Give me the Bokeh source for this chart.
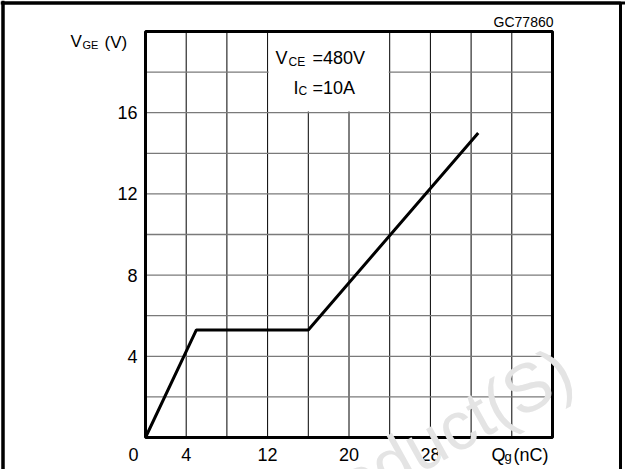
from bokeh.plotting import figure
from bokeh.models import Span
from bokeh.core.properties import value
from bokeh.embed import file_html
from bokeh.resources import INLINE

# ---- data ----
qg_nc = [0, 5.0, 16.0, 32.7]
vge_v = [0, 5.3, 5.3, 15.0]
x_ticks = [4, 12, 20, 28]
y_ticks = [4, 8, 12, 16]
x_grid = [4, 8, 12, 16, 20, 24, 28, 32, 36]
y_grid = [2, 4, 6, 8, 10, 12, 14, 16, 18]
box_x = [12, 24]
box_y = [16, 20]

FONT = "Liberation Sans"
W, H = 625, 469
L, R, T, B = 145, 73, 31, 32
XMAX, YMAX = 40, 20
fw, fh = W - L - R, H - T - B

def px2x(px):
    return (px - L) / fw * XMAX

def py2y(py):
    return (H - B - py) / fh * YMAX

p = figure(width=W, height=H, title=None,
           x_range=(px2x(0), px2x(W)), y_range=(py2y(H), py2y(0)),
           x_axis_type=None, y_axis_type=None,
           output_backend="svg", toolbar_location=None, min_border=0,
           min_border_left=0, min_border_right=0, min_border_top=0, min_border_bottom=0)
p.outline_line_color = None
p.background_fill_color = "white"
p.border_fill_color = "white"

# outer frame of the picture
p.quad(left=[px2x(2.5)], right=[px2x(620)], top=[py2y(2.5)], bottom=[py2y(490)],
       fill_color=None, line_color="black", line_width=3)
p.add_layout(Span(location=py2y(2.5), dimension="width", line_color="black", line_width=3))
p.add_layout(Span(location=px2x(2.5), dimension="height", line_color="black", line_width=3))

# grid
p.segment(x0=x_grid, y0=[0] * len(x_grid), x1=x_grid, y1=[YMAX] * len(x_grid),
          line_color="black", line_width=1)
p.segment(x0=[0] * len(y_grid), y0=y_grid, x1=[XMAX] * len(y_grid), y1=y_grid,
          line_color="#7a7a7a", line_width=1.3)

# white box behind the condition text
p.quad(left=[box_x[0] + 0.1], right=[box_x[1] - 0.1], bottom=[box_y[0] + 0.06], top=[box_y[1]],
       fill_color="white", line_color=None)

# plot frame
p.quad(left=[0], right=[XMAX], bottom=[0], top=[YMAX], fill_color=None,
       line_color="black", line_width=3)

p.line(qg_nc, vge_v, line_color="black", line_width=3)

# tick labels
p.text(x=x_ticks, y=[py2y(454)] * len(x_ticks), text=[str(t) for t in x_ticks],
       text_font=value(FONT), text_font_size="18px", text_align="center",
       text_baseline="middle", text_color="black")
p.text(x=[px2x(137)] * len(y_ticks), y=y_ticks, text=[str(t) for t in y_ticks],
       text_font=value(FONT), text_font_size="18px", text_align="right",
       text_baseline="middle", text_color="black")

def lab(text, px, py, size, align="left", color="black"):
    p.text(x=[px2x(px)], y=[py2y(py)], text=[text], text_font=value(FONT),
           text_font_size=f"{size}px", text_align=align, text_baseline="middle",
           text_color=color)

# y axis title V_GE (V)
lab("V", 70, 41, 17)
lab("GE", 82, 44, 11)
lab("(V)", 104, 42, 17)
# x axis title Q_g(nC)
lab("Q", 491, 454, 18)
lab("g", 504, 456, 13)
lab("(nC)", 513, 454, 18)
# origin label
lab("0", 133, 454, 18, align="center")
# conditions
lab("V", 275, 57, 18)
lab("CE", 288, 61, 12)
lab("=480V", 312, 57, 18)
lab("I", 293, 87, 18)
lab("C", 298, 90, 12)
lab("=10A", 312, 87, 18)
# figure code
lab("GC77860", 553, 21, 14, align="right")

# watermark (drawn on top)
p.text(x=[px2x(282)], y=[py2y(522)], text=["Product(S)"], text_font=value(FONT),
       text_font_size="68px", text_color="#e4e4e4", angle=29, angle_units="deg",
       text_align="left", text_baseline="alphabetic")

open("out.html", "w").write(file_html(p, INLINE))
